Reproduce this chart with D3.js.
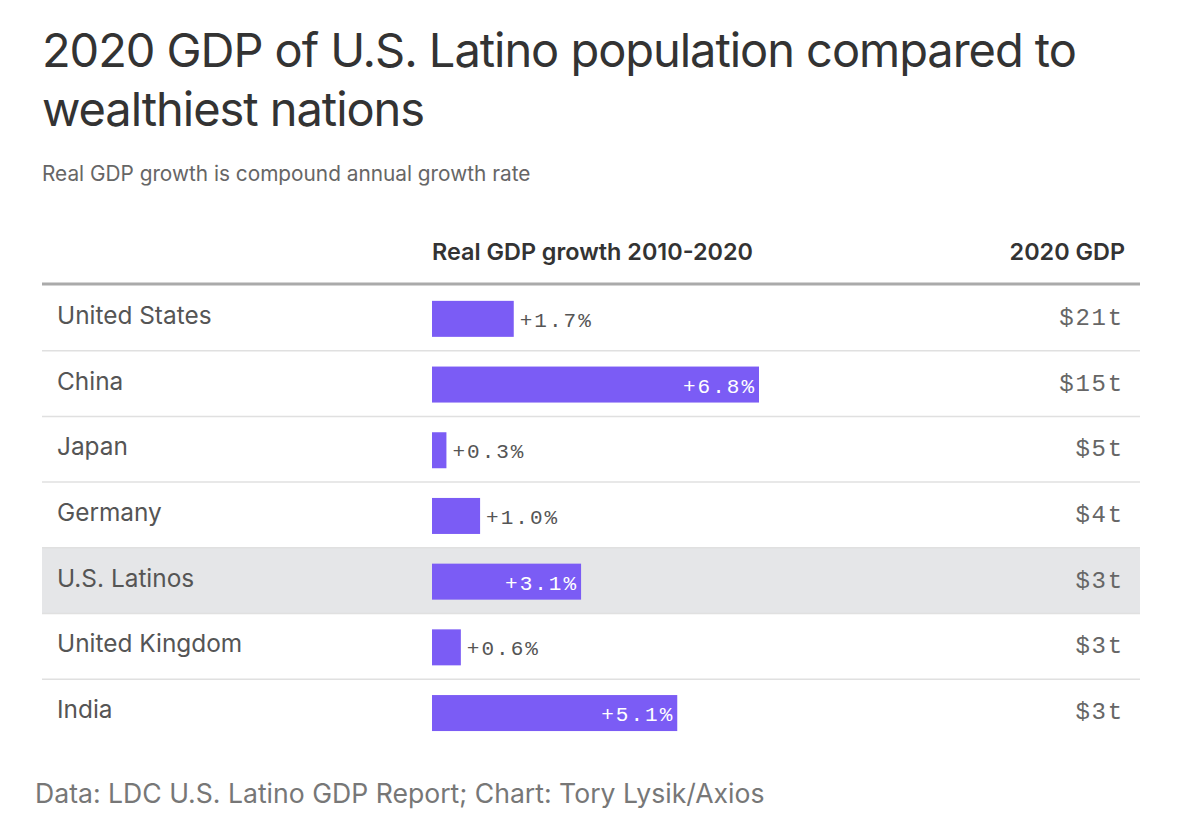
<!DOCTYPE html>
<html>
<head>
<meta charset="utf-8">
<script src="https://cdn.jsdelivr.net/npm/d3@7"></script>
<style>
  html, body { margin: 0; padding: 0; background: #fff; }
  svg { display: block; }
</style>
</head>
<body>
<svg id="chart" width="1182" height="834"></svg>
<script>
const countries = ["United States", "China", "Japan", "Germany", "U.S. Latinos", "United Kingdom", "India"];
const growth = [1.7, 6.8, 0.3, 1.0, 3.1, 0.6, 5.1];
const gdpLabels = ["$21t", "$15t", "$5t", "$4t", "$3t", "$3t", "$3t"];
const highlight = "U.S. Latinos";
const titleLines = ["2020 GDP of U.S. Latino population compared to", "wealthiest nations"];
const subtitle = "Real GDP growth is compound annual growth rate";
const headers = ["Real GDP growth 2010-2020", "2020 GDP"];
const source = "Data: LDC U.S. Latino GDP Report; Chart: Tory Lysik/Axios";

const sans = "Inter, 'Noto Sans', sans-serif";
const mono = "'Liberation Mono', 'DejaVu Sans Mono', monospace";
const svg = d3.select("#chart");

const left = 42, right = 1140;
const tableTop = 285, rowH = 65.7;

const y = d3.scaleBand().domain(countries).range([tableTop, tableTop + rowH * countries.length]).padding(0);
const x = d3.scaleLinear().domain([0, d3.max(growth)]).range([432, 759]);

// Title
svg.append("g").selectAll("text").data(titleLines).join("text")
  .attr("x", 42).attr("y", (d, i) => 67 + i * 59)
  .attr("font-family", sans).attr("font-size", 47).attr("font-weight", 400)
  .attr("fill", "#333").attr("letter-spacing", -1.05)
  .text(d => d);

svg.append("text").attr("x", 42).attr("y", 181)
  .attr("font-family", sans).attr("font-size", 20.8).attr("fill", "#666")
  .text(subtitle);

// headers
svg.append("text").attr("x", 432).attr("y", 260)
  .attr("font-family", sans).attr("font-size", 23.4).attr("font-weight", 600).attr("fill", "#333")
  .text(headers[0]);
svg.append("text").attr("x", 1125).attr("y", 260).attr("text-anchor", "end")
  .attr("font-family", sans).attr("font-size", 23.4).attr("font-weight", 600).attr("fill", "#333")
  .text(headers[1]);

// highlight band
svg.append("rect")
  .attr("x", left).attr("width", right - left)
  .attr("y", y(highlight)).attr("height", y.bandwidth())
  .attr("fill", "#e5e6e8");

// row separators
svg.append("g").selectAll("line").data(countries.slice(0, -1)).join("line")
  .attr("x1", left).attr("x2", right)
  .attr("y1", d => y(d) + y.bandwidth()).attr("y2", d => y(d) + y.bandwidth())
  .attr("stroke", "#e0e0e0").attr("stroke-width", 1.5);

// header rule
svg.append("line").attr("x1", left).attr("x2", right).attr("y1", 284).attr("y2", 284)
  .attr("stroke", "#aaa").attr("stroke-width", 3);

const data = countries.map((c, i) => ({ c, v: growth[i], g: gdpLabels[i] }));
const rows = svg.append("g").selectAll("g").data(data).join("g");

const barH = 36;
const mid = d => y(d.c) + y.bandwidth() / 2;

rows.append("text")
  .attr("x", 57).attr("y", d => mid(d) + 6)
  .attr("font-family", sans).attr("font-size", 24.4).attr("fill", "#555")
  .text(d => d.c);

rows.append("rect")
  .attr("x", x(0)).attr("width", d => x(d.v) - x(0))
  .attr("y", d => mid(d) - barH / 2 + 1).attr("height", barH)
  .attr("fill", "#7b5cf5");

const inside = d => d.v > 2;
rows.append("text")
  .attr("x", d => inside(d) ? x(d.v) - 3 : x(d.v) + 6)
  .attr("y", d => mid(d) + 9)
  .attr("text-anchor", d => inside(d) ? "end" : "start")
  .attr("font-family", mono).attr("font-size", 21).attr("letter-spacing", 2)
  .attr("fill", d => inside(d) ? "#fff" : "#555")
  .text(d => "+" + d.v.toFixed(1) + "%");

rows.append("text")
  .attr("x", 1124).attr("y", d => mid(d) + 7)
  .attr("text-anchor", "end")
  .attr("font-family", mono).attr("font-size", 24).attr("letter-spacing", 1.8).attr("fill", "#666")
  .text(d => d.g);

svg.append("text").attr("x", 35).attr("y", 803)
  .attr("font-family", sans).attr("font-size", 26.6).attr("fill", "#777")
  .text(source);
</script>
</body>
</html>
